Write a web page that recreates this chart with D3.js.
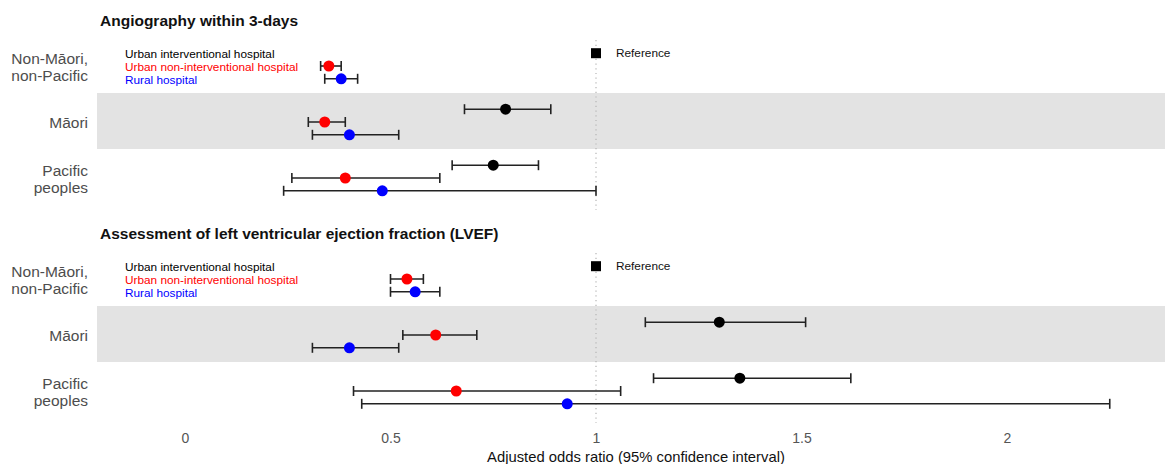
<!DOCTYPE html>
<html>
<head>
<meta charset="utf-8">
<script src="https://cdn.jsdelivr.net/npm/d3@7"></script>
<style>
  body { margin: 0; background: #fff; }
  svg { font-family: "Liberation Sans", Arial, sans-serif; }
</style>
</head>
<body>
<div id="chart"></div>
<script>
// groups and hospital types
var groups = ["Non-Māori, non-Pacific", "Māori", "Pacific peoples"]
var groupLines = [["Non-Māori,", "non-Pacific"], ["Māori"], ["Pacific", "peoples"]]
var hospitals = ["Urban interventional hospital", "Urban non-interventional hospital", "Rural hospital"]
var hospColors = ["#000000", "#ff0000", "#0000ff"]
var xTicks = [0, 0.5, 1, 1.5, 2]

// Angiography within 3-days: rows = groups, columns = hospitals (null = reference)
var angioOR = [[1, 0.35, 0.38], [0.78, 0.34, 0.40], [0.75, 0.39, 0.48]]
var angioLo = [[null, 0.33, 0.34], [0.68, 0.30, 0.31], [0.65, 0.26, 0.24]]
var angioHi = [[null, 0.38, 0.42], [0.89, 0.39, 0.52], [0.86, 0.62, 1.00]]

// Assessment of LVEF
var lvefOR = [[1, 0.54, 0.56], [1.30, 0.61, 0.40], [1.35, 0.66, 0.93]]
var lvefLo = [[null, 0.50, 0.50], [1.12, 0.53, 0.31], [1.14, 0.41, 0.43]]
var lvefHi = [[null, 0.58, 0.62], [1.51, 0.71, 0.52], [1.62, 1.06, 2.25]]

var width = 1165, height = 464

var svg = d3.select("#chart").append("svg")
    .attr("width", width)
    .attr("height", height)

var x = d3.scaleLinear().domain([0, 2]).range([185, 1007])

var inner = d3.scalePoint().domain(hospitals).range([-12.8, 12.8])

function drawPanel(title, titleY, top, orv, lov, hiv) {
    var y = d3.scaleBand().domain(groups).range([top, top + 168])
    var g = svg.append("g")

    // grey band behind Māori
    g.append("rect")
        .attr("x", 97)
        .attr("y", y("Māori") - 1)
        .attr("width", width - 97)
        .attr("height", y.bandwidth())
        .attr("fill", "#e3e3e3")

    // dotted reference line
    g.append("line")
        .attr("x1", x(1)).attr("x2", x(1))
        .attr("y1", top + 2).attr("y2", top + 172)
        .attr("stroke", "#b5b5b5")
        .attr("stroke-width", 1.2)
        .attr("stroke-dasharray", "1.2,3.5")

    g.append("text")
        .attr("x", 100).attr("y", titleY)
        .attr("font-size", 15.5)
        .attr("font-weight", "bold")
        .attr("fill", "#111")
        .text(title)

    // row labels
    groups.forEach(function(gr, i) {
        var lines = groupLines[i]
        var cy = y(gr) + y.bandwidth() / 2 + 1
        lines.forEach(function(l, j) {
            g.append("text")
                .attr("x", 88)
                .attr("y", cy + (j - (lines.length - 1) / 2) * 17)
                .attr("dy", "0.35em")
                .attr("text-anchor", "end")
                .attr("font-size", 15.5)
                .attr("fill", "#4d4d4d")
                .text(l)
        })
    })

    // legend in first row
    hospitals.forEach(function(h, k) {
        g.append("text")
            .attr("x", 125)
            .attr("y", y(groups[0]) + y.bandwidth() / 2 + inner(h) + 1)
            .attr("dy", "0.35em")
            .attr("font-size", 11.8)
            .attr("fill", hospColors[k])
            .text(h)
    })

    // flatten into marks
    var marks = []
    groups.forEach(function(gr, i) {
        hospitals.forEach(function(h, k) {
            marks.push({ group: gr, hosp: h, k: k, or: orv[i][k], lo: lov[i][k], hi: hiv[i][k] })
        })
    })
    var cyOf = function(d) { return y(d.group) + y.bandwidth() / 2 + inner(d.hosp) }

    var ci = marks.filter(function(d) { return d.lo != null })
    var refs = marks.filter(function(d) { return d.lo == null })

    g.selectAll(".ci").data(ci).enter().append("line")
        .attr("x1", function(d) { return x(d.lo) })
        .attr("x2", function(d) { return x(d.hi) })
        .attr("y1", cyOf).attr("y2", cyOf)
        .attr("stroke", "#222").attr("stroke-width", 1.6)
    g.selectAll(".capl").data(ci).enter().append("line")
        .attr("x1", function(d) { return x(d.lo) })
        .attr("x2", function(d) { return x(d.lo) })
        .attr("y1", function(d) { return cyOf(d) - 5 })
        .attr("y2", function(d) { return cyOf(d) + 5 })
        .attr("stroke", "#222").attr("stroke-width", 1.6)
    g.selectAll(".capr").data(ci).enter().append("line")
        .attr("x1", function(d) { return x(d.hi) })
        .attr("x2", function(d) { return x(d.hi) })
        .attr("y1", function(d) { return cyOf(d) - 5 })
        .attr("y2", function(d) { return cyOf(d) + 5 })
        .attr("stroke", "#222").attr("stroke-width", 1.6)
    g.selectAll(".pt").data(ci).enter().append("circle")
        .attr("cx", function(d) { return x(d.or) })
        .attr("cy", cyOf)
        .attr("r", 5.5)
        .attr("fill", function(d) { return hospColors[d.k] })

    g.selectAll(".ref").data(refs).enter().append("rect")
        .attr("x", function(d) { return x(d.or) - 5 })
        .attr("y", function(d) { return cyOf(d) - 5 })
        .attr("width", 10).attr("height", 10)
        .attr("fill", "#000")
    g.selectAll(".reflab").data(refs).enter().append("text")
        .attr("x", function(d) { return x(d.or) + 20 })
        .attr("y", cyOf)
        .attr("dy", "0.35em")
        .attr("font-size", 11.8)
        .attr("fill", "#111")
        .text("Reference")
}

drawPanel("Angiography within 3-days", 26, 38, angioOR, angioLo, angioHi)
drawPanel("Assessment of left ventricular ejection fraction (LVEF)", 239, 251, lvefOR, lvefLo, lvefHi)

// x axis
var axis = svg.append("g")
    .attr("transform", "translate(0,425)")
    .call(d3.axisBottom(x).tickValues(xTicks).tickSize(0).tickPadding(8).tickFormat(d3.format("")))
axis.select(".domain").remove()
axis.selectAll("text")
    .attr("font-size", 14)
    .attr("fill", "#555")
    .attr("font-family", "\"Liberation Sans\", Arial, sans-serif")

svg.append("text")
    .attr("x", 636)
    .attr("y", 462)
    .attr("text-anchor", "middle")
    .attr("font-size", 14.8)
    .attr("fill", "#111")
    .text("Adjusted odds ratio (95% confidence interval)")
</script>
</body>
</html>
